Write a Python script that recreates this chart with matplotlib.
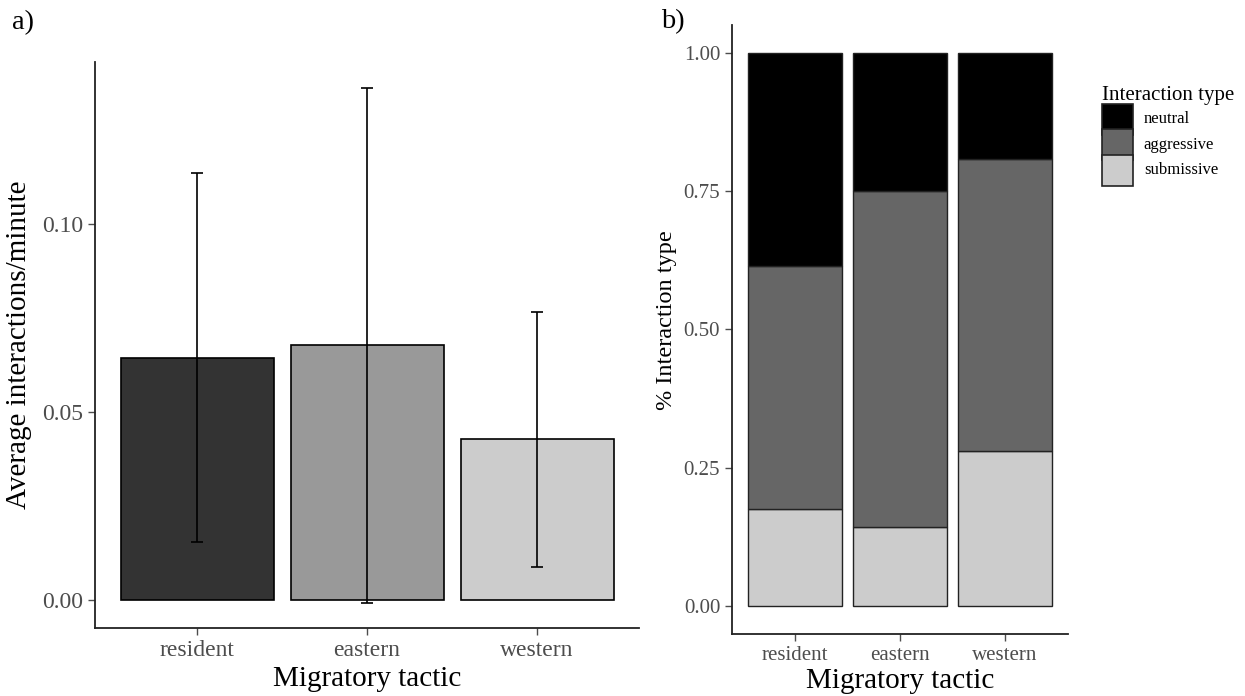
import matplotlib
matplotlib.use("Agg")
import matplotlib.pyplot as plt
from matplotlib.patches import Patch, Rectangle
from matplotlib.legend_handler import HandlerPatch
import numpy as np

plt.rcParams['font.family'] = ['Liberation Serif', 'DejaVu Serif']

# ---- data ----
tactics = ["resident", "eastern", "western"]
mean_rate = [0.0644, 0.0678, 0.0428]
err_low = [0.0155, -0.0007, 0.0088]
err_high = [0.1136, 0.1362, 0.0766]
bar_colors_a = ["#333333", "#999999", "#CCCCCC"]

interaction_types = ["neutral", "aggressive", "submissive"]
submissive = [0.175, 0.143, 0.280]
aggressive = [0.439, 0.607, 0.528]
neutral = [0.386, 0.250, 0.192]
type_colors = {"neutral": "#000000", "aggressive": "#666666", "submissive": "#CCCCCC"}

yticks_a = [0.00, 0.05, 0.10]
yticks_b = [0.00, 0.25, 0.50, 0.75, 1.00]

tick_col = "#4D4D4D"

fig = plt.figure(figsize=(12.45, 6.96), dpi=100)

def style_axes(ax):
    for s in ["top", "right"]:
        ax.spines[s].set_visible(False)
    for s in ["left", "bottom"]:
        ax.spines[s].set_color("#222222")
        ax.spines[s].set_linewidth(1.3)
    ax.tick_params(axis="both", direction="out", length=5, width=1.0,
                   color=tick_col, labelcolor=tick_col)

# ---- panel a ----
axa = fig.add_axes([95/1245, (696-628)/696, 544/1245, 566/696])
x = np.arange(1, len(tactics) + 1)
axa.bar(x, mean_rate, width=0.9, color=bar_colors_a, edgecolor="black", linewidth=1.2, zorder=2)
m = np.array(mean_rate)
yerr = np.vstack([m - np.array(err_low), np.array(err_high) - m])
axa.errorbar(x, mean_rate, yerr=yerr, fmt="none", ecolor="black", elinewidth=1.2,
             capsize=4.0, capthick=1.2, zorder=3)
axa.set_xlim(0.4, 3.6)
axa.set_ylim(-0.00745, 0.1431)
axa.set_xticks(x)
axa.set_xticklabels(tactics)
axa.set_yticks(yticks_a)
axa.set_yticklabels([f"{v:.2f}" for v in yticks_a])
style_axes(axa)
axa.tick_params(axis="both", labelsize=17)
axa.set_xlabel("Migratory tactic", fontsize=21, color="black", labelpad=4)
axa.set_ylabel("Average interactions/minute", fontsize=21, color="black")
axa.yaxis.set_label_coords((32 - 95) / 544, 0.5)
fig.text(12/1245, 1 - 29/696, "a)", fontsize=20.5)

# ---- panel b ----
axb = fig.add_axes([732/1245, (696-634)/696, 336/1245, 609/696])
sub = np.array(submissive)
agg = np.array(aggressive)
neu = np.array(neutral)
axb.bar(x, sub, width=0.9, color=type_colors["submissive"], edgecolor="#222222", linewidth=1.0, zorder=2)
axb.bar(x, agg, bottom=sub, width=0.9, color=type_colors["aggressive"], edgecolor="#222222", linewidth=1.0, zorder=2)
axb.bar(x, neu, bottom=sub + agg, width=0.9, color=type_colors["neutral"], edgecolor="#222222", linewidth=1.0, zorder=2)
axb.set_xlim(0.4, 3.6)
axb.set_ylim(-0.05, 1.05)
axb.set_xticks(x)
axb.set_xticklabels(tactics)
axb.set_yticks(yticks_b)
axb.set_yticklabels([f"{v:.2f}" for v in yticks_b])
style_axes(axb)
axb.tick_params(axis="both", labelsize=15)
axb.set_xlabel("Migratory tactic", fontsize=21, color="black", labelpad=2)
axb.set_ylabel("% Interaction type", fontsize=17.5, color="black")
axb.yaxis.set_label_coords((677 - 732) / 336, (634 - 320) / 609)
fig.text(661/1245, 1 - 28/696, "b)", fontsize=20.5)

# legend with square keys (~32 px) centred on their labels
LEG_FS = 12.0
KEY_PT = 31 * 72 / 100.0

def square_key(legend, orig_handle, xdescent, ydescent, width, height, fontsize):
    yc = 0.23 * fontsize
    return Rectangle((-xdescent, yc - KEY_PT / 2), KEY_PT, KEY_PT)

handles = [Patch(facecolor=type_colors[t], edgecolor="#222222", linewidth=1.2) for t in interaction_types]
hh = (33 * 72 / 100.0) / LEG_FS
leg = fig.legend(handles, interaction_types, loc="upper left",
                 bbox_to_anchor=(1102/1245, 1 - 86/696), frameon=False,
                 fontsize=LEG_FS, title="Interaction type", title_fontsize=15,
                 handlelength=KEY_PT / LEG_FS, handleheight=hh, labelspacing=0.0,
                 handletextpad=0.65, borderaxespad=0, borderpad=0,
                 handler_map={Patch: HandlerPatch(patch_func=square_key)})
leg._legend_box.align = "left"

fig.savefig("out.png", dpi=100)
